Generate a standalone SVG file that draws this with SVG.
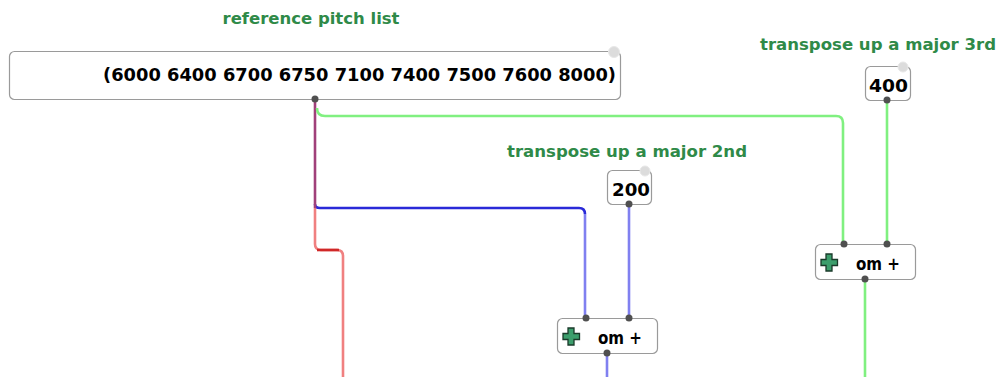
<svg xmlns="http://www.w3.org/2000/svg" width="1000" height="377" viewBox="0 0 1000 377">
<style>
.lbl{font-family:"DejaVu Sans","Liberation Sans",sans-serif;font-weight:bold;fill:#2f8a48;font-size:16px}
.box{fill:#fff;stroke:#9a9a9a;stroke-width:1.2}
.val{font-family:"DejaVu Sans","Liberation Sans",sans-serif;font-weight:bold;fill:#000;font-size:18px}
.op{font-family:"DejaVu Sans","Liberation Sans",sans-serif;font-weight:bold;fill:#000;font-size:17px}
.dot{fill:#505050}
.knob{fill:#dcdcdc;stroke:#e8e8e8;stroke-width:1}
.c{fill:none;stroke-width:2.6;stroke-linejoin:round}
</style>
<defs>
<g id="cross">
<path d="M5,0h6v5.5h5.5v6h-5.5v5.5h-6v-5.5h-5v-6h5z" fill="#3c9e6c" stroke="#1a3a2a" stroke-width="1.3"/>
</g>
</defs>
<rect width="1000" height="377" fill="#fff"/>

<g id="connectors">
<path class="c" stroke="#f08080" d="M315,208 V244 Q315,250 321,250 H337 Q343,250 343,256 V377"/>
<path class="c" stroke="#d02828" d="M317,250 H339"/>
<path class="c" stroke="#8080f0" d="M585,214 V318"/>
<path class="c" stroke="#2a2ad8" d="M315,204 Q315,208 320,208 H579 Q585,208 585,214"/>
<path class="c" stroke="#a0407a" d="M315,100 V208"/>
<path class="c" stroke="#80f080" d="M317,108 Q317,116 325,116 H836 Q843,116 843,123 V244"/>
<path class="c" stroke="#8080f0" d="M629,204 V318"/>
<path class="c" stroke="#8080f0" d="M607,353 V377"/>
<path class="c" stroke="#80f080" d="M887,100 V244"/>
<path class="c" stroke="#80f080" d="M865,279 V377"/>
</g>

<g id="label-ref"><text class="lbl" x="311" y="24" text-anchor="middle" textLength="177" lengthAdjust="spacingAndGlyphs">reference pitch list</text></g>
<g id="label-2nd"><text class="lbl" x="627" y="157" text-anchor="middle" textLength="240" lengthAdjust="spacingAndGlyphs">transpose up a major 2nd</text></g>
<g id="label-3rd"><text class="lbl" x="878" y="50" text-anchor="middle" textLength="236" lengthAdjust="spacingAndGlyphs">transpose up a major 3rd</text></g>

<g id="pitch-list">
<rect class="box" x="9.5" y="51.5" width="611" height="48" rx="5"/>
<circle class="knob" cx="614" cy="52" r="5.5"/>
<text class="val" x="103" y="81" textLength="513" lengthAdjust="spacingAndGlyphs">(6000 6400 6700 6750 7100 7400 7500 7600 8000)</text>
<circle class="dot" cx="315" cy="99" r="3.5"/>
</g>

<g id="n200">
<rect class="box" x="607.5" y="170.5" width="44" height="34" rx="5"/>
<circle class="knob" cx="645" cy="171" r="5"/>
<text class="val" x="612" y="196" textLength="38" lengthAdjust="spacingAndGlyphs">200</text>
<circle class="dot" cx="629" cy="204" r="3.5"/>
</g>

<g id="n400">
<rect class="box" x="865.5" y="66.5" width="45" height="34" rx="5"/>
<circle class="knob" cx="903" cy="67" r="5"/>
<text class="val" x="869" y="92" textLength="39" lengthAdjust="spacingAndGlyphs">400</text>
<circle class="dot" cx="887" cy="100" r="3.5"/>
</g>

<g id="omplus1">
<rect class="box" x="557.5" y="318.5" width="100" height="35" rx="5"/>
<use href="#cross" x="563" y="328"/>
<text class="op" x="598" y="344" textLength="44" lengthAdjust="spacingAndGlyphs">om +</text>
<circle class="dot" cx="586" cy="318" r="3.5"/>
<circle class="dot" cx="629" cy="318" r="3.5"/>
<circle class="dot" cx="607" cy="353" r="3.5"/>
</g>

<g id="omplus2">
<rect class="box" x="815.5" y="244.5" width="100" height="35" rx="5"/>
<use href="#cross" x="821" y="254"/>
<text class="op" x="856" y="270" textLength="44" lengthAdjust="spacingAndGlyphs">om +</text>
<circle class="dot" cx="844" cy="244" r="3.5"/>
<circle class="dot" cx="887" cy="244" r="3.5"/>
<circle class="dot" cx="865" cy="279" r="3.5"/>
</g>
</svg>
